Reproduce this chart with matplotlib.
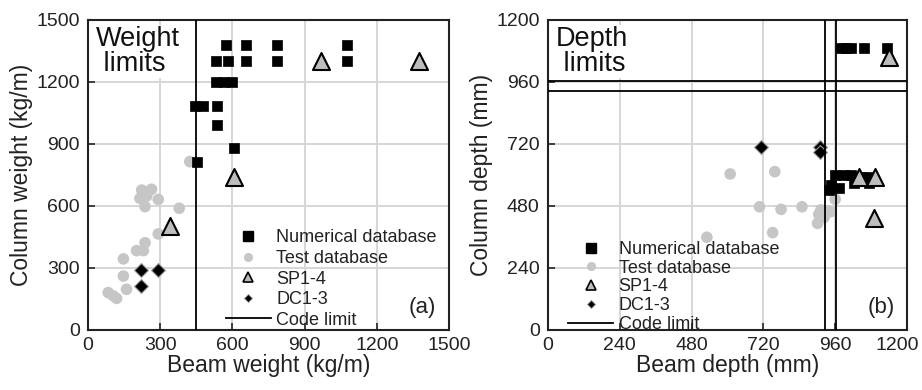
import matplotlib
matplotlib.use("Agg")
import matplotlib.pyplot as plt
import matplotlib.transforms as mtransforms
from matplotlib.lines import Line2D

plt.rcParams['font.family'] = ['Liberation Sans', 'DejaVu Sans']

# ---------------- Panel (a) data: weights (kg/m) ----------------
num_bw = [575, 656, 786, 1076, 531, 581, 656, 786, 1076, 531, 564, 598, 444, 477, 537, 537, 606, 451]
num_cw = [1380, 1380, 1380, 1380, 1300, 1300, 1300, 1300, 1300, 1200, 1200, 1200, 1085, 1085, 1085, 990, 882, 815]
test_bw = [423, 223, 264, 216, 244, 292, 237, 379, 292, 237, 202, 230, 147, 147, 160, 84, 105, 119]
test_cw = [815, 677, 681, 637, 648, 632, 597, 589, 465, 422, 384, 384, 344, 261, 197, 181, 165, 153]
sp_bw = [969, 1377, 605, 340]
sp_cw = [1300, 1300, 742, 503]
dc_bw = [220, 289, 220]
dc_cw = [290, 290, 214]
weight_limit = 447

# ---------------- Panel (b) data: depths (mm) ----------------
num_bd = [980, 995, 1013, 1057, 1133, 960, 990, 1013, 1047, 1070, 947, 973, 940, 1023, 1073]
num_cd = [1090, 1090, 1090, 1090, 1090, 600, 600, 600, 592, 592, 561, 550, 542, 569, 569]
test_bd = [609, 758, 707, 779, 849, 912, 933, 945, 901, 923, 960, 751, 531, 905]
test_cd = [604, 613, 477, 467, 477, 465, 461, 458, 413, 436, 506, 377, 359, 448]
sp_bd = [1140, 1040, 1093, 1090]
sp_cd = [1055, 593, 593, 432]
dc_bd = [712, 910, 910]
dc_cd = [710, 710, 690]
depth_limits = [925, 963]

xticks_a = [0, 300, 600, 900, 1200, 1500]
yticks_a = [0, 300, 600, 900, 1200, 1500]
ticks_b = [0, 240, 480, 720, 960, 1200]

fig = plt.figure(figsize=(9.22, 3.90), dpi=100)
ax1 = fig.add_axes([88/922, 60/390, 361/922, 310/390])
ax2 = fig.add_axes([548/922, 60/390, 359/922, 310/390])

TXT = '#222222'
sq_kw = dict(marker='s', s=62, c='black', edgecolors='black', linewidths=0.5, zorder=3)
ci_kw = dict(marker='o', s=70, c='#c6c6c6', edgecolors='none', zorder=2)
tr_kw = dict(marker='^', s=150, c='#bdbdbd', edgecolors='black', linewidths=1.5, zorder=4)
dm_kw = dict(marker='D', s=50, c='black', edgecolors='#9a9a9a', linewidths=0.8, zorder=4)


def style(ax, xt, yt):
    ax.set_xlim(xt[0], xt[-1])
    ax.set_ylim(yt[0], yt[-1])
    ax.set_xticks(xt)
    ax.set_yticks(yt)
    ax.grid(True, color='#d6d6d6', lw=1.4, zorder=0)
    ax.set_axisbelow(True)
    ax.tick_params(direction='in', length=5, width=1.2, labelsize=14, colors=TXT)
    ax.tick_params(axis='x', pad=5)
    ax.tick_params(axis='y', pad=6)
    for sp in ax.spines.values():
        sp.set_linewidth(1.5)
        sp.set_color(TXT)


def legend(ax, anchor, spacing):
    handles = [
        Line2D([], [], ls='none', marker='s', ms=6.5, mfc='black', mec='black'),
        Line2D([], [], ls='none', marker='o', ms=6.5, mfc='#c6c6c6', mec='none'),
        Line2D([], [], ls='none', marker='^', ms=6.5, mfc='#bdbdbd', mec='black', mew=1.2),
        Line2D([], [], ls='none', marker='D', ms=4.5, mfc='black', mec='#9a9a9a', mew=0.6),
        Line2D([], [], color='black', lw=1.3),
    ]
    labels = ['Numerical database', 'Test database', 'SP1-4', 'DC1-3', 'Code limit']
    leg = ax.legend(handles, labels, loc='lower left', bbox_to_anchor=anchor, frameon=False,
                    fontsize=13, handlelength=2.5, handletextpad=0.3, labelspacing=spacing,
                    borderpad=0.0, borderaxespad=0.0, labelcolor=TXT)
    leg.set_zorder(7)


def labels(ax, xl, yl):
    ax.set_xlabel(xl, fontsize=16.5, color=TXT, labelpad=0)
    ax.set_ylabel(yl, fontsize=16.5, color=TXT, labelpad=2)


# Panel (a)
style(ax1, xticks_a, yticks_a)
ax1.scatter(test_bw, test_cw, **ci_kw)
ax1.scatter(num_bw, num_cw, **sq_kw)
ax1.scatter(sp_bw, sp_cw, **tr_kw)
ax1.scatter(dc_bw, dc_cw, **dm_kw)
ax1.axvline(weight_limit, color='black', lw=1.3, zorder=5)
labels(ax1, 'Beam weight (kg/m)', 'Column weight (kg/m)')
ax1.text(0.022, 0.98, 'Weight\n limits', transform=ax1.transAxes, ha='left', va='top',
         fontsize=19.5, linespacing=0.92, color='#111111', zorder=6,
         bbox=dict(facecolor='white', edgecolor='none', pad=1.0))
ax1.text(0.965, 0.04, '(a)', transform=ax1.transAxes, ha='right', va='bottom',
         fontsize=16, color=TXT, zorder=6,
         bbox=dict(facecolor='white', edgecolor='none', pad=2))
legend(ax1, (0.382, 0.004), 0.2)

# Panel (b)
style(ax2, ticks_b, ticks_b)
ax2.scatter(test_bd, test_cd, **ci_kw)
ax2.scatter(num_bd, num_cd, **sq_kw)
ax2.scatter(sp_bd, sp_cd, **tr_kw)
ax2.scatter(dc_bd, dc_cd, **dm_kw)
for v in depth_limits:
    ax2.axvline(v, color='black', lw=1.3, zorder=5)
    ax2.axhline(v, color='black', lw=1.3, zorder=5)
labels(ax2, 'Beam depth (mm)', 'Column depth (mm)')
ax2.text(0.022, 0.98, 'Depth\n limits', transform=ax2.transAxes, ha='left', va='top',
         fontsize=19.5, linespacing=0.92, color='#111111', zorder=6,
         bbox=dict(facecolor='white', edgecolor='none', pad=1.0))
ax2.text(0.965, 0.04, '(b)', transform=ax2.transAxes, ha='right', va='bottom',
         fontsize=16, color=TXT, zorder=6,
         bbox=dict(facecolor='white', edgecolor='none', pad=2))
legend(ax2, (0.056, -0.01), 0.1)

# keep the last x tick label of panel (b) inside the figure
last = ax2.get_xticklabels()[-1]
last.set_transform(last.get_transform() +
                   mtransforms.ScaledTranslation(-10/100, 0, fig.dpi_scale_trans))

fig.savefig('out.png', dpi=100)
